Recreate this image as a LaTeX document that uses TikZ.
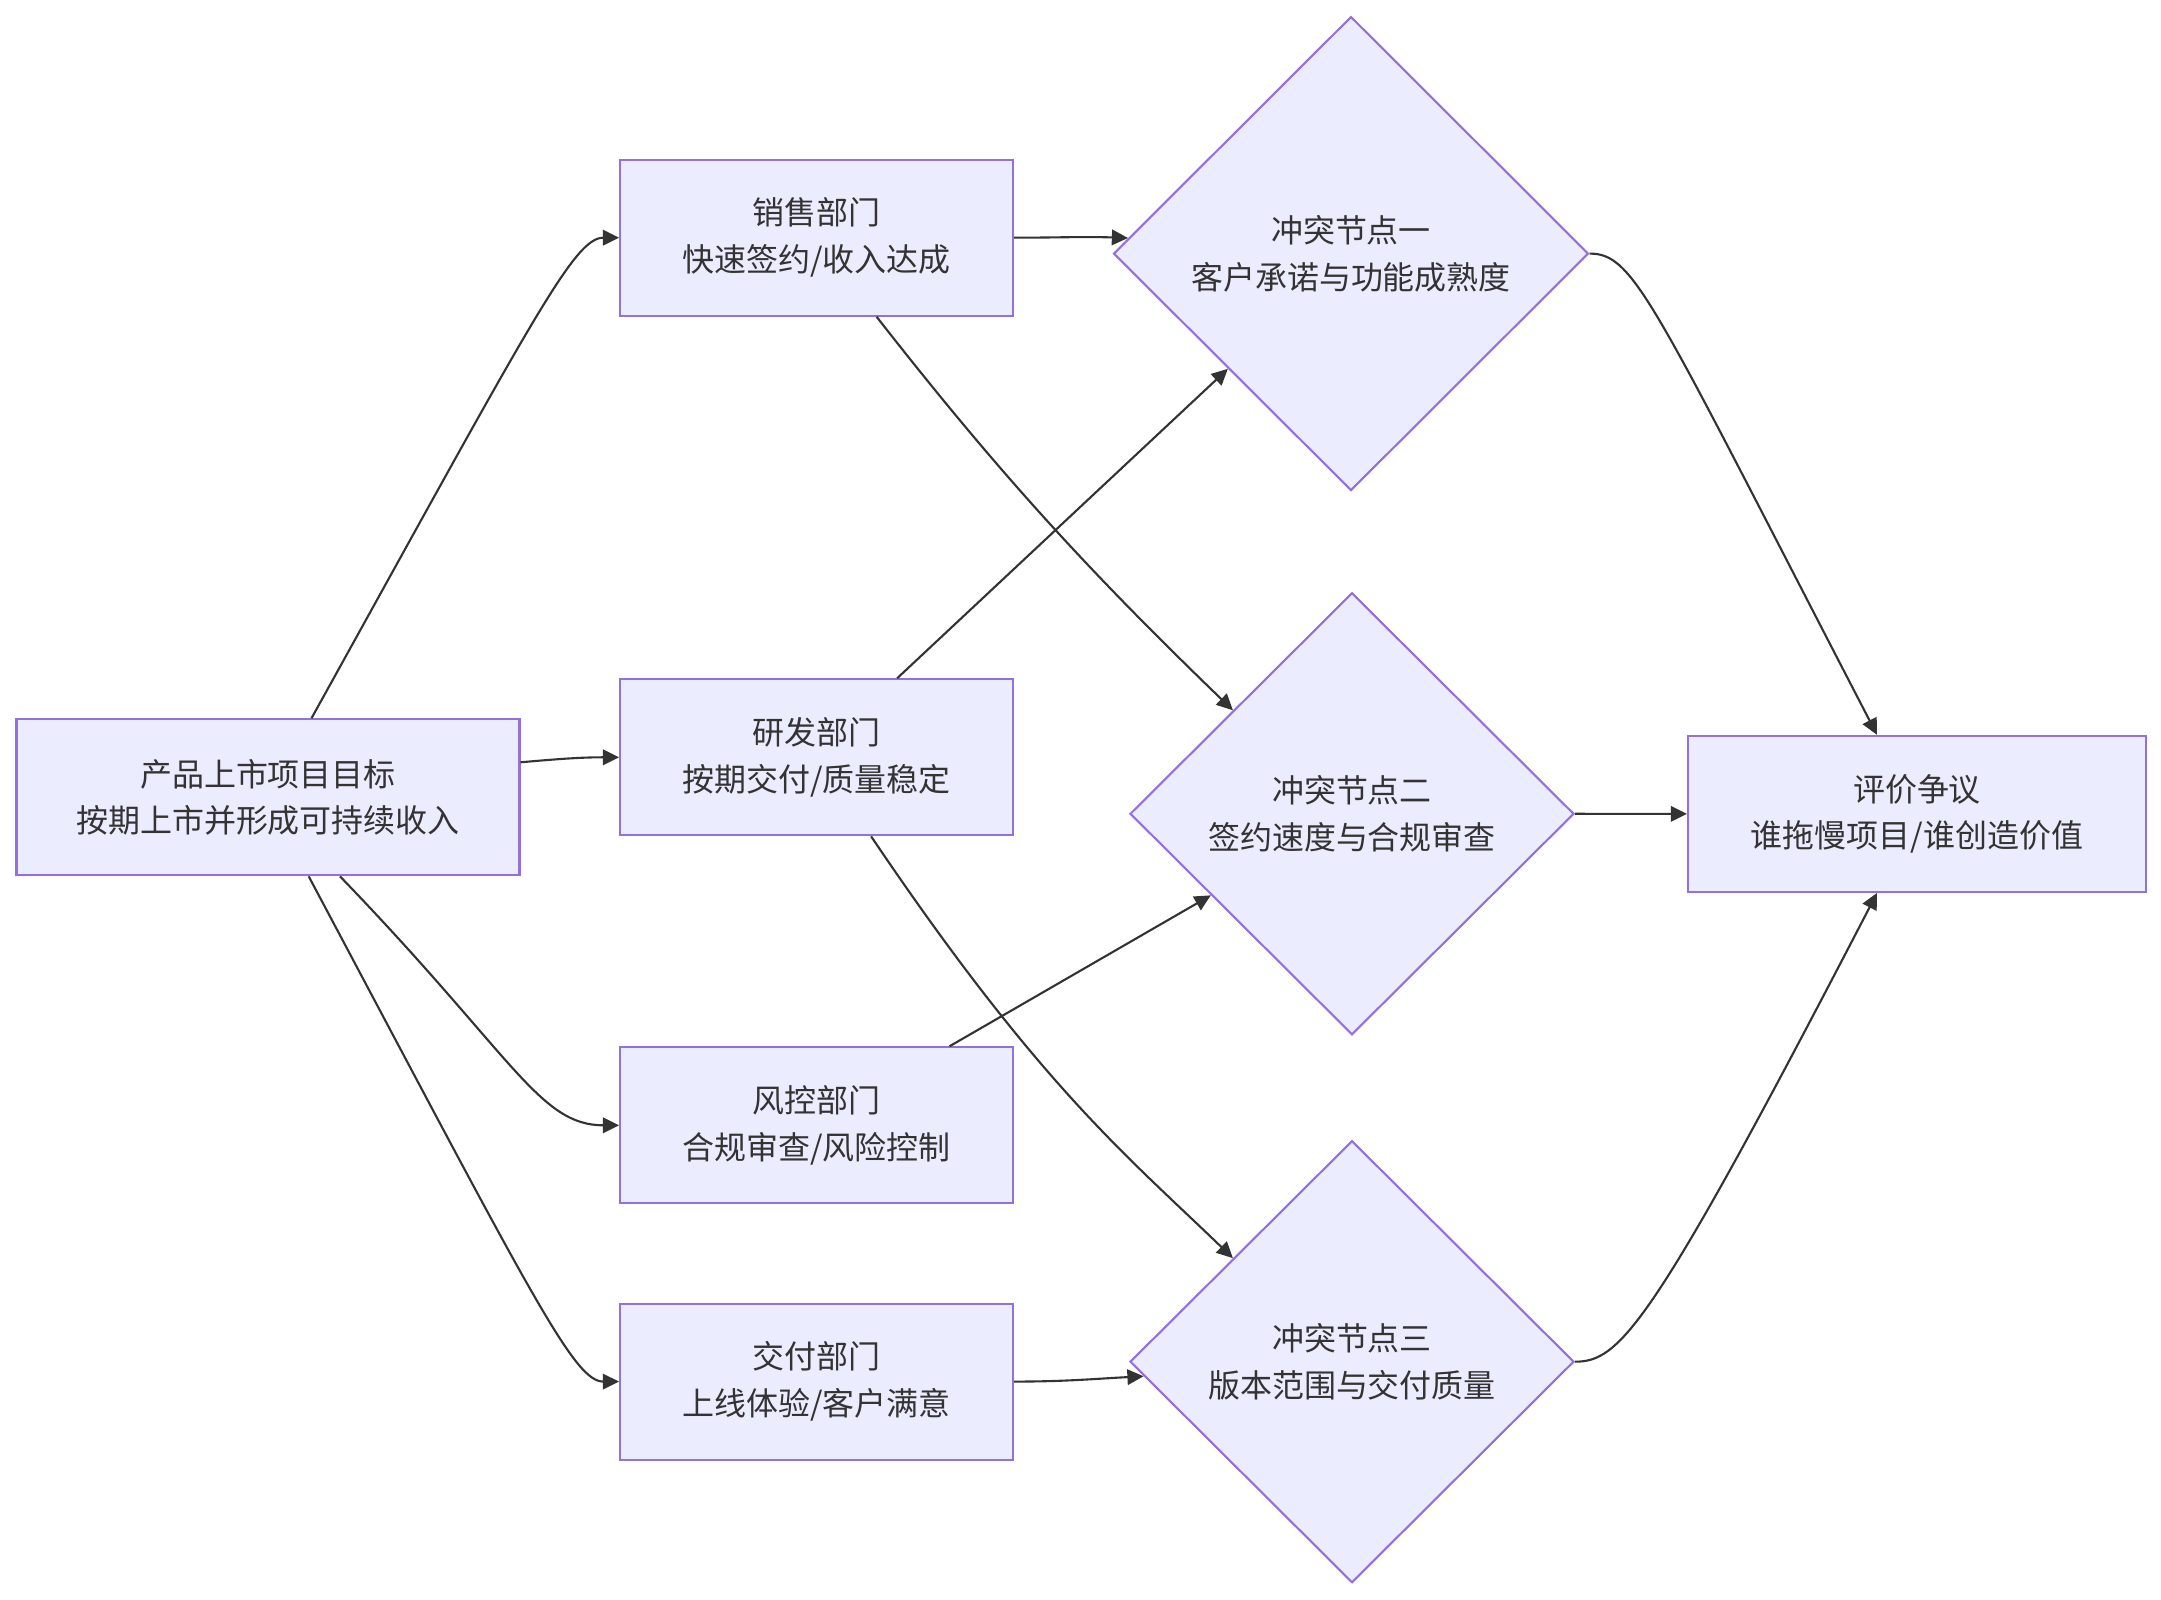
\documentclass[tikz,border=0pt]{standalone}
\usepackage{fontspec}
\newfontfamily\cjk{Noto Sans CJK SC}
\usepackage{tikz}
\usetikzlibrary{arrows.meta,positioning,shapes}
\usepackage{xcolor}
\definecolor{nodefill}{HTML}{ECECFF}
\definecolor{nodeline}{HTML}{9370DB}
\definecolor{edgeline}{HTML}{333333}

\begin{document}
\begin{tikzpicture}[every node/.style={draw=nodeline, fill=nodefill, line width=0.6pt, text=edgeline, align=center, inner sep=0pt, font=\cjk\fontsize{9.1pt}{13.3pt}\selectfont},
  box/.style={rectangle, minimum height=1.56cm},
  conflict/.style={diamond, aspect=1},
  flow/.style={-{Triangle[length=4.6pt,width=4.4pt]}, draw=edgeline, line width=0.6pt}]
\useasboundingbox (0,0) rectangle (21.61,-16);

\node[box, minimum width=5.03cm] (goal) at (2.68,-7.973) {产品上市项目目标\\按期上市并形成可持续收入};
\node[box, minimum width=3.93cm] (sales) at (8.166,-2.377) {销售部门\\快速签约/收入达成};
\node[box, minimum width=3.93cm] (rnd) at (8.166,-7.573) {研发部门\\按期交付/质量稳定};
\node[box, minimum width=3.93cm] (risk) at (8.166,-11.253) {风控部门\\合规审查/风险控制};
\node[box, minimum width=3.93cm] (deliv) at (8.166,-13.816) {交付部门\\上线体验/客户满意};
\node[conflict, minimum width=4.75cm, minimum height=4.74cm] (c1) at (13.51,-2.536) {冲突节点一\\客户承诺与功能成熟度};
\node[conflict, minimum width=4.44cm, minimum height=4.42cm] (c2) at (13.52,-8.138) {冲突节点二\\签约速度与合规审查};
\node[conflict, minimum width=4.44cm, minimum height=4.42cm] (c3) at (13.52,-13.617) {冲突节点三\\版本范围与交付质量};
\node[box, minimum width=4.58cm] (eval) at (19.17,-8.139) {评价争议\\谁拖慢项目/谁创造价值};

\draw[flow] ([xshift=4.35mm]goal.north) .. controls +(61:4.6) and +(-0.45,0) .. (sales.west);
\draw[flow] ([yshift=3.5mm]goal.east) to[out=5,in=180] (rnd.west);
\draw[flow] ([xshift=7.2mm]goal.south) .. controls +(-46:2.5) and +(-0.8,0) .. (risk.west);
\draw[flow] ([xshift=4.07mm]goal.south) .. controls +(-62:4.8) and +(-0.45,0) .. (deliv.west);
\draw[flow] (sales.east) to[out=0,in=178] (c1.176);
\draw[flow] ([xshift=6mm]sales.south) .. controls +(-52:2) and +(136:2) .. (c2.139);
\draw[flow] ([xshift=8.06mm]rnd.north) -- (c1);
\draw[flow] ([xshift=5.45mm]rnd.south) .. controls +(-56:3) and +(136:1.5) .. (c3.139);
\draw[flow] ([xshift=13.3mm]risk.north) -- (c2);
\draw[flow] (deliv.east) to[out=0,in=183] (c3.184);
\draw[flow] (c1.east) .. controls +(0.45,0) and +(117.4:4.9) .. ([xshift=-4mm]eval.north);
\draw[flow] (c2.east) -- (eval.west);
\draw[flow] (c3.east) .. controls +(0.45,0) and +(-117.4:4.9) .. ([xshift=-4mm]eval.south);
\end{tikzpicture}
\end{document}
